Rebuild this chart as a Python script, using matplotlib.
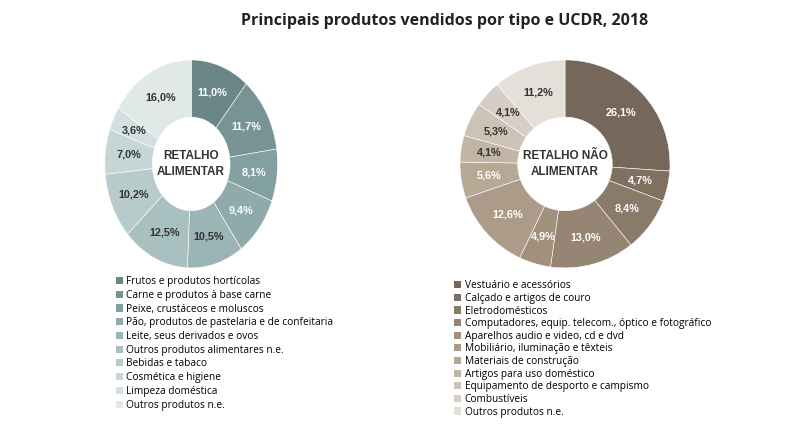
import matplotlib
matplotlib.use("Agg")
import matplotlib.pyplot as plt
from matplotlib.patches import Patch
import numpy as np

cat_a = ["Frutos e produtos hortícolas", "Carne e produtos à base carne", "Peixe, crustáceos e moluscos",
         "Pão, produtos de pastelaria e de confeitaria", "Leite, seus derivados e ovos",
         "Outros produtos alimentares n.e.", "Bebidas e tabaco", "Cosmética e higiene",
         "Limpeza doméstica", "Outros produtos n.e."]
val_a = [11.0, 11.7, 8.1, 9.4, 10.5, 12.5, 10.2, 7.0, 3.6, 16.0]
cat_b = ["Vestuário e acessórios", "Calçado e artigos de couro", "Eletrodomésticos",
         "Computadores, equip. telecom., óptico e fotográfico", "Aparelhos audio e video, cd e dvd",
         "Mobiliário, iluminação e têxteis", "Materiais de construção", "Artigos para uso doméstico",
         "Equipamento de desporto e campismo", "Combustíveis", "Outros produtos n.e."]
val_b = [26.1, 4.7, 8.4, 13.0, 4.9, 12.6, 5.6, 4.1, 5.3, 4.1, 11.2]

col_a = ["#6a8686", "#779393", "#83a0a0", "#8faaab", "#9bb5b6", "#a9c0c1", "#b7cbcc", "#c6d6d7", "#d3e0e0", "#e0e8e8"]
col_b = ["#75685a", "#7f705f", "#8a7a68", "#958572", "#a0907c", "#ab9b88", "#b6a895", "#c2b5a5", "#ccc2b5", "#d6cec4", "#e4dfd9"]
white_a = 4
white_b = 7

fig = plt.figure(figsize=(8, 4.28), dpi=100)
fig.text(0.556, 0.952, "Principais produtos vendidos por tipo e UCDR, 2018", ha="center", va="center",
         fontsize=11.5, fontweight="bold", family="Open Sans", color="#222222")

def donut(rect, vals, cols, nwhite, center):
    ax = fig.add_axes(rect)
    wedges, _ = ax.pie(vals, colors=cols, startangle=90, counterclock=False,
                       wedgeprops=dict(width=0.55, edgecolor="white", linewidth=0.4))
    ax.set_aspect("auto")
    ax.set_xlim(-1, 1); ax.set_ylim(-1, 1)
    for i, w in enumerate(wedges):
        ang = np.deg2rad((w.theta1 + w.theta2) / 2)
        ax.text(0.73 * np.cos(ang), 0.73 * np.sin(ang), f"{vals[i]:.1f}%".replace(".", ","),
                ha="center", va="center", fontsize=7.8, fontweight="bold", family="Liberation Sans",
                color="white" if i < nwhite else "#333333")
    ax.text(0, 0, center, ha="center", va="center", fontsize=8.5, fontweight="bold",
            family="Liberation Sans", color="#333333", linespacing=1.4)

donut([0.131, 0.374, 0.216, 0.486], val_a, col_a, white_a, "RETALHO\nALIMENTAR")
donut([0.575, 0.374, 0.2625, 0.486], val_b, col_b, white_b, "RETALHO NÃO\nALIMENTAR")

def legend(cats, cols, x, y, sp):
    handles = [Patch(facecolor=c, edgecolor="none") for c in cols]
    fig.legend(handles, cats, loc="upper left", bbox_to_anchor=(x, y), frameon=False,
               prop={"family": "Open Sans", "size": 7.3}, handlelength=0.7, handleheight=0.7,
               handletextpad=0.3, labelspacing=sp, borderaxespad=0, borderpad=0)

legend(cat_a, col_a, 0.145, 0.355, 0.27)
legend(cat_b, col_b, 0.568, 0.345, 0.16)

fig.savefig("out.png", dpi=100, facecolor="white")
